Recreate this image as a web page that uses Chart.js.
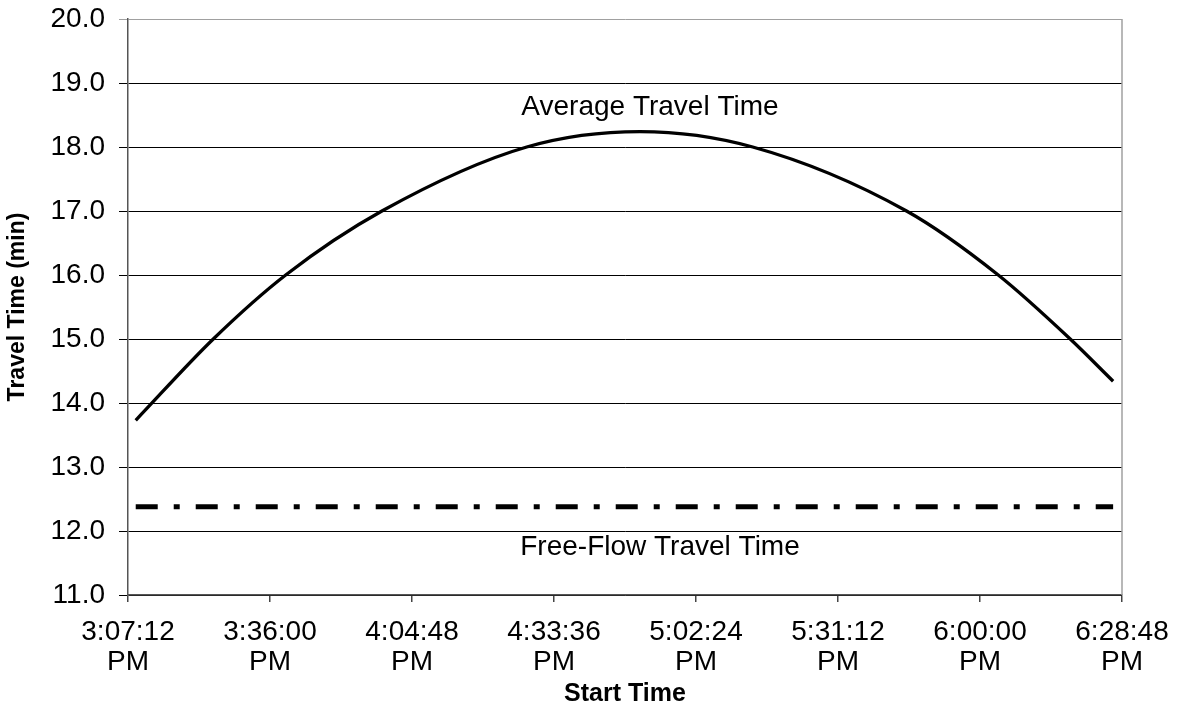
<!DOCTYPE html>
<html>
<head>
<meta charset="utf-8">
<script src="https://cdn.jsdelivr.net/npm/chart.js@4"></script>
<style>
  html, body { margin: 0; padding: 0; background: #fff; }
  #wrap { width: 1179px; height: 708px; }
</style>
</head>
<body>
<div id="wrap"><canvas id="chart"></canvas></div>
<script>
// values
const startTimes = ['15:08:46', '15:24:30', '15:39:11', '15:58:42', '16:28:04',
                    '16:51:02', '17:13:54', '17:45:06', '18:03:42', '18:18:18', '18:27:00'];
const avgTravel = [13.73, 15.0, 16.0, 17.0, 18.0, 18.24, 18.0, 17.0, 16.0, 15.0, 14.34];
const freeFlowTimes = ['15:08:46', '18:27:00'];
const freeFlow = [12.38, 12.38];

// axis: 3:07:12 PM .. 6:28:48 PM every 28:48
const axisMin = '15:07:12';
const axisMax = '18:28:48';
const axisStep = '00:28:48';

const FONT = '"Liberation Sans", Arial, sans-serif';

function toSec(s) {
    const p = s.split(':').map(Number);
    return p[0] * 3600 + p[1] * 60 + p[2];
}

function fmtTime(sec) {
    let h = Math.floor(sec / 3600);
    const m = Math.floor((sec % 3600) / 60);
    const s = Math.round(sec % 60);
    const ampm = h >= 12 ? 'PM' : 'AM';
    h = h % 12; if (h === 0) h = 12;
    return [h + ':' + String(m).padStart(2, '0') + ':' + String(s).padStart(2, '0'), ampm];
}

const avgPoints = startTimes.map((t, i) => ({ x: toSec(t), y: avgTravel[i] }));
const ffPoints = freeFlowTimes.map((t, i) => ({ x: toSec(t), y: freeFlow[i] }));

/* labels inside the plot + right border */
const extras = {
    id: 'extras',
    afterDatasetsDraw(chart) {
        const { ctx, chartArea, scales } = chart;
        ctx.save();
        ctx.strokeStyle = '#a0a0a0';
        ctx.lineWidth = 1.5;
        ctx.beginPath();
        ctx.moveTo(chartArea.right, chartArea.top);
        ctx.lineTo(chartArea.right, chartArea.bottom);
        ctx.stroke();

        ctx.fillStyle = '#000';
        ctx.font = '28px ' + FONT;
        ctx.textAlign = 'center';
        ctx.textBaseline = 'middle';
        ctx.fillText('Average Travel Time', scales.x.getPixelForValue(toSec('16:53:04')), scales.y.getPixelForValue(18.62));
        ctx.fillText('Free-Flow Travel Time', scales.x.getPixelForValue(toSec('16:55:06')), scales.y.getPixelForValue(11.74));
        ctx.restore();
    }
};

new Chart(document.getElementById('chart'), {
    type: 'line',
    data: {
        datasets: [
            {
                label: 'Average Travel Time',
                data: avgPoints,
                borderColor: '#000',
                borderWidth: 3.3,
                pointRadius: 0,
                cubicInterpolationMode: 'monotone',
                fill: false
            },
            {
                label: 'Free-Flow Travel Time',
                data: ffPoints,
                borderColor: '#000',
                borderWidth: 5,
                borderDash: [22, 16, 6, 16],
                borderCapStyle: 'butt',
                pointRadius: 0,
                fill: false
            }
        ]
    },
    options: {
        responsive: true,
        maintainAspectRatio: false,
        animation: false,
        layout: { padding: { top: 19, right: 57, bottom: 0, left: 0 } },
        plugins: { legend: { display: false }, tooltip: { enabled: false } },
        scales: {
            x: {
                type: 'linear',
                min: toSec(axisMin),
                max: toSec(axisMax),
                afterFit(scale) {
                    scale.height = 113;
                    scale.paddingLeft = 0;
                    scale.paddingRight = 0;
                },
                afterBuildTicks(scale) {
                    const ticks = [];
                    for (let v = toSec(axisMin); v <= toSec(axisMax); v += toSec(axisStep)) ticks.push({ value: v });
                    scale.ticks = ticks;
                },
                ticks: {
                    autoSkip: false,
                    maxRotation: 0,
                    padding: 16,
                    color: '#000',
                    font: { family: FONT, size: 28, lineHeight: 1.05 },
                    callback: v => fmtTime(v)
                },
                grid: { drawOnChartArea: false, drawTicks: true, tickLength: 7, color: '#444', lineWidth: 1.5 },
                border: { color: '#555', width: 1.5 },
                title: {
                    display: true,
                    text: 'Start Time',
                    color: '#000',
                    font: { family: FONT, size: 25, weight: 'bold', lineHeight: 1.1 },
                    padding: { top: 0, bottom: 0 }
                }
            },
            y: {
                min: 11,
                max: 20,
                afterFit(scale) {
                    scale.width = 128;
                    scale.paddingTop = 0;
                    scale.paddingBottom = 0;
                },
                ticks: {
                    stepSize: 1,
                    padding: 14,
                    color: '#000',
                    font: { family: FONT, size: 28 },
                    callback: v => v.toFixed(1)
                },
                grid: {
                    tickLength: 9,
                    lineWidth: 1,
                    color: c => c.tick && c.tick.value === 20 ? '#a0a0a0' : '#000'
                },
                border: { color: '#555', width: 1.5 },
                title: {
                    display: true,
                    text: 'Travel Time (min)',
                    color: '#000',
                    font: { family: FONT, size: 23, weight: 'bold' },
                    padding: { top: 4, bottom: 0 }
                }
            }
        }
    },
    plugins: [extras]
});
</script>
</body>
</html>
